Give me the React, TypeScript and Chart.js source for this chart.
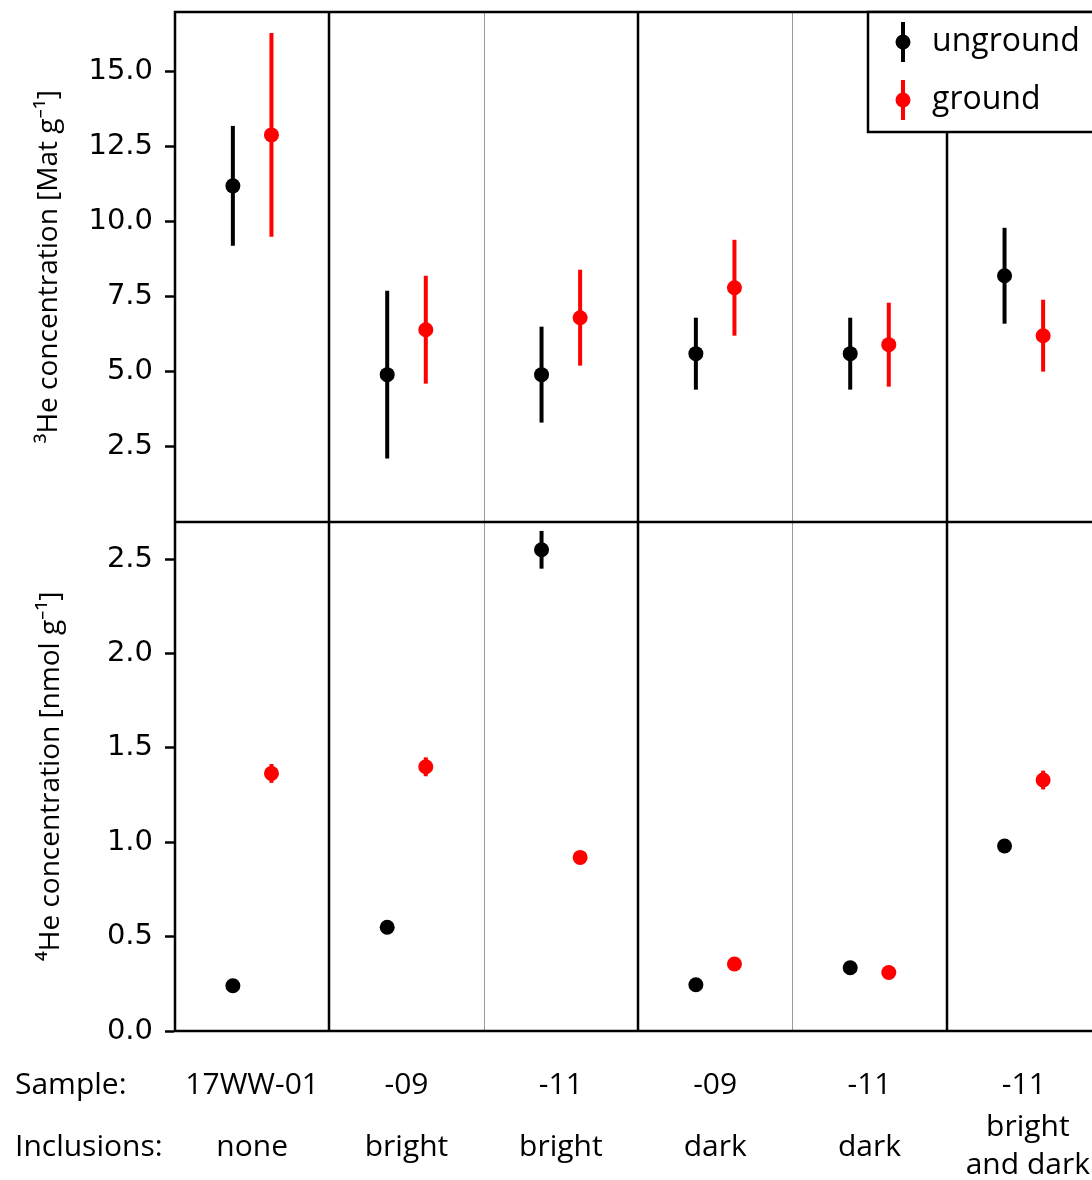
import React, { useEffect, useRef } from 'react';
import { Chart, registerables } from 'chart.js';

Chart.register(...registerables);

// ---- data ----
const samples = ['17WW-01', '-09', '-11', '-09', '-11', '-11'];
const inclusions = [['none'], ['bright'], ['bright'], ['dark'], ['dark'], ['bright', 'and dark']];
const seriesNames = ['unground', 'ground'];

const he3Unground = [11.2, 4.9, 4.9, 5.6, 5.6, 8.2];
const he3UngroundErr = [2.0, 2.8, 1.6, 1.2, 1.2, 1.6];
const he3Ground = [12.9, 6.4, 6.8, 7.8, 5.9, 6.2];
const he3GroundErr = [3.4, 1.8, 1.6, 1.6, 1.4, 1.2];

const he4Unground = [0.24, 0.55, 2.55, 0.245, 0.335, 0.98];
const he4UngroundErr = [0.01, 0.01, 0.1, 0.01, 0.01, 0.01];
const he4Ground = [1.365, 1.4, 0.92, 0.355, 0.31, 1.33];
const he4GroundErr = [0.05, 0.05, 0.015, 0.015, 0.015, 0.05];

const he3TickValues = [2.5, 5, 7.5, 10, 12.5, 15];
const he4TickValues = [0, 0.5, 1, 1.5, 2, 2.5];

const majorSeparators = [1, 3, 5];
const minorSeparators = [2, 4];

const COLORS = ['#000000', '#ff0000'];
const OFFSET = 0.125;

const SANS = '"Open Sans", "Noto Sans", sans-serif';
const TICKF = '"DejaVu Sans", sans-serif';

function pts(vals: number[], s: number) {
  return vals.map((v, i) => ({ x: i + 0.5 + (s === 0 ? -OFFSET : OFFSET), y: v }));
}

const errorBarPlugin = {
  id: 'errorBars',
  beforeDatasetsDraw(chart: any) {
    const { ctx, chartArea } = chart;
    const xs = chart.scales.x;
    ctx.save();
    // column separators
    minorSeparators.forEach((v) => {
      const x = Math.round(xs.getPixelForValue(v)) + 0.5;
      ctx.strokeStyle = '#9a9a9a';
      ctx.lineWidth = 1;
      ctx.beginPath();
      ctx.moveTo(x, chartArea.top);
      ctx.lineTo(x, chartArea.bottom);
      ctx.stroke();
    });
    majorSeparators.forEach((v) => {
      const x = Math.round(xs.getPixelForValue(v));
      ctx.strokeStyle = '#000';
      ctx.lineWidth = 2.5;
      ctx.beginPath();
      ctx.moveTo(x, chartArea.top);
      ctx.lineTo(x, chartArea.bottom);
      ctx.stroke();
    });
    // panel divider
    const yDiv = Math.round(chart.scales.y3.bottom);
    ctx.beginPath();
    ctx.moveTo(chartArea.left, yDiv);
    ctx.lineTo(chartArea.right, yDiv);
    ctx.stroke();

    // error bars
    chart.data.datasets.forEach((ds: any) => {
      const ys = chart.scales[ds.yAxisID];
      ctx.strokeStyle = ds.backgroundColor;
      ctx.lineWidth = 4;
      ds.data.forEach((p: any, i: number) => {
        const e = ds.errors[i];
        const x = xs.getPixelForValue(p.x);
        ctx.beginPath();
        ctx.moveTo(x, ys.getPixelForValue(p.y - e));
        ctx.lineTo(x, ys.getPixelForValue(p.y + e));
        ctx.stroke();
      });
    });
    ctx.restore();
  },
  afterDatasetsDraw(chart: any) {
    const { ctx, chartArea } = chart;
    ctx.save();
    ctx.strokeStyle = '#000';
    ctx.lineWidth = 2.5;
    ctx.strokeRect(chartArea.left, chartArea.top, chartArea.right - chartArea.left, chartArea.bottom - chartArea.top);
    ctx.restore();
  },
  afterDraw(chart: any) {
    const { ctx, chartArea } = chart;
    const xs = chart.scales.x;
    ctx.save();
    // legend
    const lx = 868;
    const ly = chartArea.top;
    ctx.fillStyle = '#fff';
    ctx.fillRect(lx, ly, 300, 120);
    ctx.strokeStyle = '#000';
    ctx.lineWidth = 2.5;
    ctx.strokeRect(lx, ly, 300, 120);
    seriesNames.forEach((name, i) => {
      const cy = ly + 30 + i * 58;
      ctx.strokeStyle = COLORS[i];
      ctx.fillStyle = COLORS[i];
      ctx.lineWidth = 4;
      ctx.beginPath();
      ctx.moveTo(lx + 35, cy - 20);
      ctx.lineTo(lx + 35, cy + 20);
      ctx.stroke();
      ctx.beginPath();
      ctx.arc(lx + 35, cy, 7.5, 0, Math.PI * 2);
      ctx.fill();
      ctx.fillStyle = '#000';
      ctx.font = `32px ${SANS}`;
      ctx.textAlign = 'left';
      ctx.textBaseline = 'middle';
      ctx.fillText(name, lx + 64, cy);
    });

    // x labels
    ctx.fillStyle = '#000';
    ctx.font = `30px ${SANS}`;
    ctx.textBaseline = 'middle';
    const rowS = chartArea.bottom + 54;
    const rowI = chartArea.bottom + 116;
    ctx.textAlign = 'left';
    ctx.fillText('Sample:', 15, rowS);
    ctx.fillText('Inclusions:', 15, rowI);
    ctx.textAlign = 'center';
    samples.forEach((s, i) => {
      const cx = xs.getPixelForValue(i + 0.5);
      ctx.fillText(s, cx, rowS);
      const inc = inclusions[i];
      if (inc.length === 1) {
        ctx.fillText(inc[0], cx, rowI);
      } else {
        ctx.fillText(inc[0], cx + 4, rowI - 20);
        ctx.fillText(inc[1], cx + 4, rowI + 18);
      }
    });
    ctx.restore();
  },
};

export default function App() {
  const ref = useRef<HTMLCanvasElement>(null);
  useEffect(() => {
    if (!ref.current) return;
    const mkAxis = (min: number, max: number, keep: number[], title: string, titlePad: number) => ({
      type: 'linear',
      position: 'left',
      stack: 'panels',
      stackWeight: 1,
      min,
      max,
      afterBuildTicks: (scale: any) => {
        scale.ticks = keep.map((v) => ({ value: v }));
      },
      afterFit: (scale: any) => {
        scale.width = 175;
        scale.paddingTop = 0;
        scale.paddingBottom = 0;
      },
      ticks: {
        color: '#000',
        font: { family: TICKF, size: 29 },
        padding: 12,
        callback: (v: any) => Number(v).toFixed(1),
      },
      grid: {
        drawOnChartArea: false,
        drawTicks: true,
        tickLength: 10,
        tickWidth: 2.5,
        tickColor: '#000',
      },
      border: { display: true, color: '#000', width: 2 },
      title: {
        display: true,
        text: title,
        color: '#000',
        font: { family: SANS, size: 28 },
        padding: { top: titlePad, bottom: 0 },
      },
    });
    const chart = new Chart(ref.current, {
      type: 'scatter',
      data: {
        datasets: [
          { label: 'unground', yAxisID: 'y3', data: pts(he3Unground, 0), errors: he3UngroundErr, backgroundColor: COLORS[0] },
          { label: 'ground', yAxisID: 'y3', data: pts(he3Ground, 1), errors: he3GroundErr, backgroundColor: COLORS[1] },
          { label: 'unground', yAxisID: 'y4', data: pts(he4Unground, 0), errors: he4UngroundErr, backgroundColor: COLORS[0] },
          { label: 'ground', yAxisID: 'y4', data: pts(he4Ground, 1), errors: he4GroundErr, backgroundColor: COLORS[1] },
        ] as any,
      },
      options: {
        animation: false,
        responsive: false,
        layout: { padding: { left: 0, top: 12, right: 19, bottom: 149 } },
        elements: { point: { radius: 7.5, borderWidth: 0, hoverRadius: 7.5 } },
        plugins: { legend: { display: false }, tooltip: { enabled: false } },
        scales: {
          x: { type: 'linear', min: 0, max: 6, display: false },
          y4: mkAxis(0, 2.7, he4TickValues, '⁴He concentration [nmol g⁻¹]', 34) as any,
          y3: mkAxis(0, 17, he3TickValues, '³He concentration [Mat g⁻¹]', 32) as any,
        },
      },
      plugins: [errorBarPlugin],
    });
    return () => chart.destroy();
  }, []);
  return (
    <div style={{ position: 'absolute', left: 0, top: 0, width: 1092, height: 1180, overflow: 'hidden', background: '#fff' }}>
      <canvas ref={ref} width={1120} height={1180} style={{ display: 'block' }} />
    </div>
  );
}
